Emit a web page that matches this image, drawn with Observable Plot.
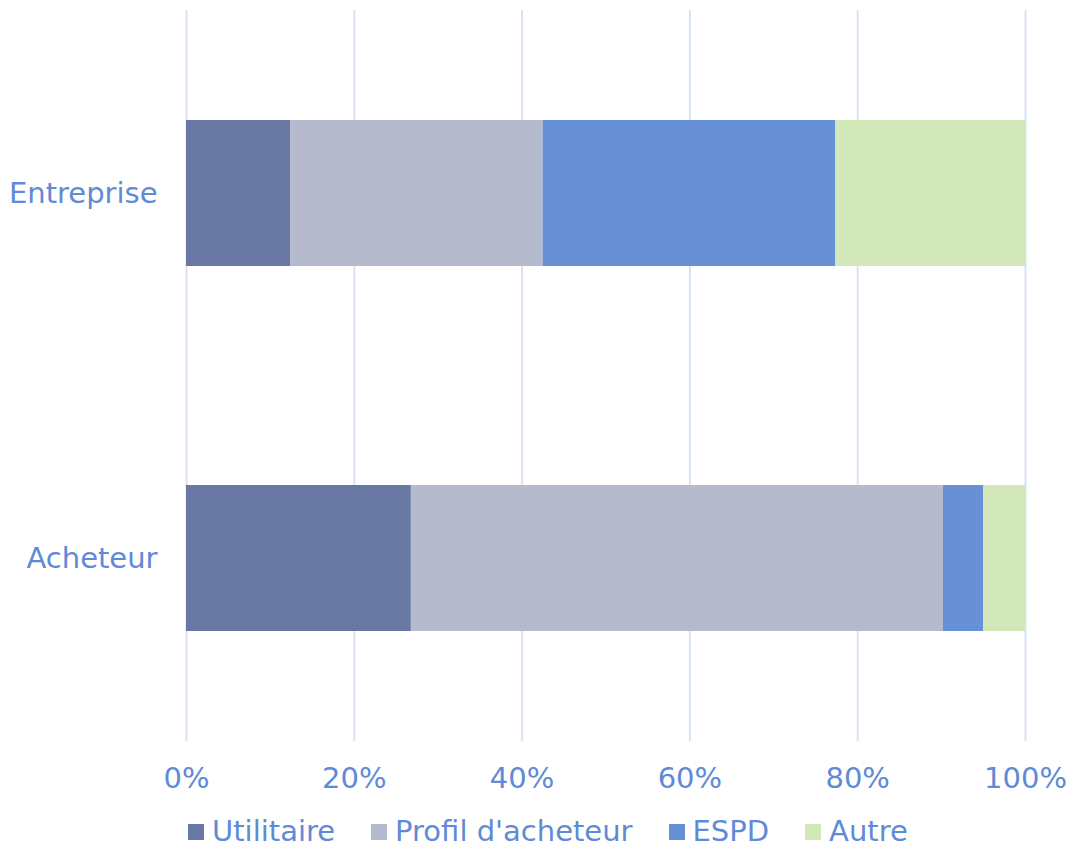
<!DOCTYPE html>
<html>
<head>
<meta charset="utf-8">
<script src="https://cdn.jsdelivr.net/npm/d3@7"></script>
<script src="https://cdn.jsdelivr.net/npm/@observablehq/plot@0.6"></script>
<style>
  html, body { margin: 0; padding: 0; background: #fff; }
  body { width: 1069px; font-family: "DejaVu Sans", Verdana, sans-serif; }
  #chart svg { display: block; }
  #legend { display: flex; justify-content: flex-start; margin-left: 188px; margin-top: 16px; font-size: 29px; line-height: 30px; height: 30px; color: #5f8ad6; }
  .item { display: flex; align-items: center; margin-right: 36px; }
  .sw { width: 16px; height: 16px; margin-right: 8px; margin-top: 2px; }
</style>
</head>
<body>
<div id="chart"></div>
<div id="legend"></div>
<script>
const categories = ["Entreprise", "Acheteur"];
const seriesNames = ["Utilitaire", "Profil d'acheteur", "ESPD", "Autre"];
const utilitaire = [0.124, 0.268];
const profilAcheteur = [0.301, 0.634];
const espd = [0.349, 0.048];
const autre = [0.226, 0.050];
const colors = ["#6878a3", "#b5bacd", "#6890d6", "#d3e8b8"];
const xTicks = [0, 0.2, 0.4, 0.6, 0.8, 1.0];

const seriesValues = [utilitaire, profilAcheteur, espd, autre];
const data = [];
categories.forEach((c, i) => {
  seriesNames.forEach((s, j) => data.push({category: c, series: s, value: seriesValues[j][i]}));
});

const textColor = "#5f8ad6";
const chart = Plot.plot({
  width: 1069,
  height: 800,
  marginLeft: 186,
  marginRight: 44,
  marginTop: 10,
  marginBottom: 59,
  style: {fontFamily: "DejaVu Sans, Verdana, sans-serif", fontSize: "29px", color: textColor, background: "#fff"},
  x: {domain: [0, 1], ticks: xTicks, tickFormat: d => Math.round(d * 100) + "%", tickSize: 0, tickPadding: 26, label: null},
  y: {domain: categories, paddingInner: 0.6, paddingOuter: 0.3, tickSize: 0, tickPadding: 29, label: null},
  color: {domain: seriesNames, range: colors},
  marks: [
    Plot.ruleX(xTicks, {stroke: "#d9e2f3", strokeWidth: 2}),
    Plot.barX(data, Plot.stackX({x: "value", y: "category", fill: "series", inset: 0})),
    Plot.axisX({ticks: xTicks, tickFormat: d => Math.round(d * 100) + "%", tickSize: 0, tickPadding: 26, fill: textColor, label: null, fontSize: 29}),
    Plot.axisY({tickSize: 0, tickPadding: 29, fill: textColor, label: null, fontSize: 29})
  ]
});
document.getElementById("chart").appendChild(chart);

const legend = document.getElementById("legend");
seriesNames.forEach((s, i) => {
  const it = document.createElement("div");
  it.className = "item";
  const sw = document.createElement("div");
  sw.className = "sw";
  sw.style.background = colors[i];
  const t = document.createElement("span");
  t.textContent = s;
  it.appendChild(sw); it.appendChild(t);
  legend.appendChild(it);
});
</script>
</body>
</html>
